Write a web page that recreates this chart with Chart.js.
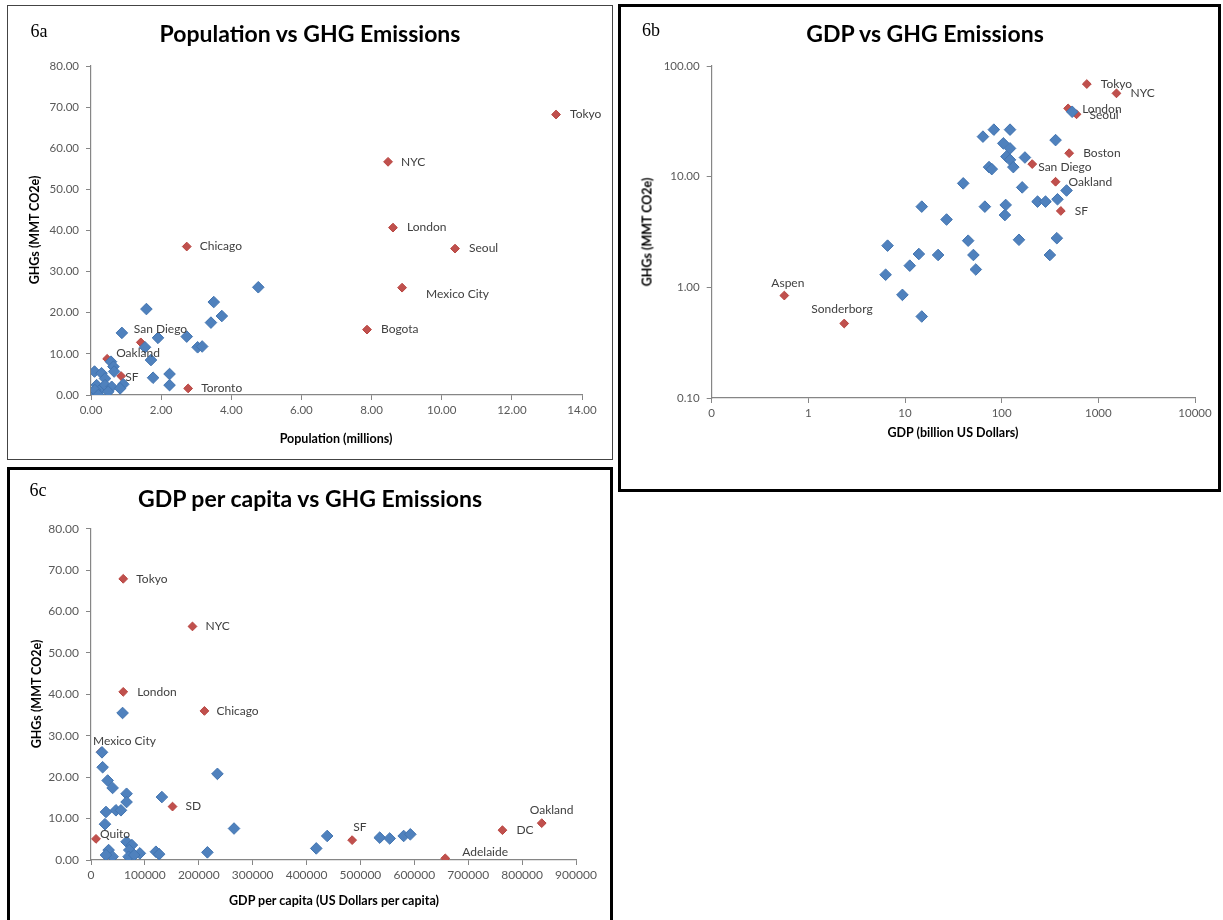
<!DOCTYPE html>
<html>
<head>
<meta charset="utf-8">
<script src="https://cdn.jsdelivr.net/npm/chart.js@4.4.1/dist/chart.umd.min.js"></script>
<style>
  html, body { margin:0; padding:0; background:#fff; width:1223px; height:920px; overflow:hidden; }
  .panel { position:absolute; box-sizing:border-box; background:#fff; }
  .panel canvas { position:absolute; left:0; top:0; }
  .txt { position:absolute; white-space:nowrap; transform:translate(-50%,-50%); color:#000; }
  .tag { font-family:"Liberation Serif","DejaVu Serif",serif; font-size:18px; }
  .title { font-family:Lato,"Open Sans",sans-serif; font-weight:700; font-size:23px; }
  .axt { font-family:Lato,"Open Sans",sans-serif; font-weight:700; font-size:12.5px; }
  .rot { transform:translate(-50%,-50%) rotate(-90deg); }
</style>
</head>
<body>

<div class="panel" id="pA" style="left:7px;top:5px;width:606px;height:455px;border:1px solid #444;"><canvas id="cA" width="604" height="453"></canvas></div>
<div class="panel" id="pB" style="left:618px;top:4px;width:603px;height:488px;border:3px solid #000;"><canvas id="cB" width="597" height="453"></canvas></div>
<div class="panel" id="pC" style="left:7px;top:467px;width:606px;height:470px;border:3px solid #000;"><canvas id="cC" width="600" height="464"></canvas></div>

<div class="txt tag" style="left:39px;top:31px;">6a</div>
<div class="txt title" style="left:310px;top:33px;">Population vs GHG Emissions</div>
<div class="txt axt" style="left:336px;top:438px;">Population (millions)</div>
<div class="txt axt rot" style="left:34px;top:230px;">GHGs (MMT CO2e)</div>

<div class="txt tag" style="left:651px;top:30px;">6b</div>
<div class="txt title" style="left:925px;top:33px;">GDP vs GHG Emissions</div>
<div class="txt axt" style="left:953px;top:432px;">GDP (billion US Dollars)</div>
<div class="txt axt rot" style="left:647px;top:232px;">GHGs (MMT CO2e)</div>

<div class="txt tag" style="left:38px;top:490px;">6c</div>
<div class="txt title" style="left:310px;top:498px;">GDP per capita vs GHG Emissions</div>
<div class="txt axt" style="left:334px;top:900px;">GDP per capita (US Dollars per capita)</div>
<div class="txt axt rot" style="left:36px;top:694px;">GHGs (MMT CO2e)</div>

<script>
// ---- 6a: population (millions) vs GHG (MMT CO2e)
const popBlueX = [4.77, 3.50, 3.73, 3.42, 1.58, 0.88, 1.91, 2.73, 1.54, 3.04, 3.17, 1.71, 1.77, 2.24, 2.24, 0.92,
                  0.10, 0.30, 0.57, 0.64, 0.66, 0.40, 0.16, 0.30, 0.04, 0.11, 0.40, 0.59, 0.83, 0.49, 0.21];
const popBlueY = [26.2, 22.6, 19.2, 17.6, 20.9, 15.1, 13.9, 14.2, 11.6, 11.6, 11.8, 8.5, 4.2, 5.1, 2.4, 2.6,
                  5.7, 5.3, 8.1, 6.9, 5.7, 4.0, 2.4, 1.6, 0.4, 1.2, 2.4, 2.0, 1.6, 0.8, 0.0];
const popLabels = ['Tokyo', 'NYC', 'London', 'Seoul', 'Mexico City', 'Bogota', 'Chicago', 'Toronto', 'San Diego', 'Oakland', 'SF'];
const popRedX = [13.26, 8.47, 8.61, 10.38, 8.87, 7.87, 2.73, 2.77, 1.42, 0.46, 0.86];
const popRedY = [68.2, 56.7, 40.7, 35.6, 26.1, 15.9, 36.1, 1.6, 12.8, 8.8, 4.6];
const popXTicks = [0, 2, 4, 6, 8, 10, 12, 14];
const popXTickLabels = ['0.00', '2.00', '4.00', '6.00', '8.00', '10.00', '12.00', '14.00'];
const ghgTicks = [0, 10, 20, 30, 40, 50, 60, 70, 80];
const ghgTickLabels = ['0.00', '10.00', '20.00', '30.00', '40.00', '50.00', '60.00', '70.00', '80.00'];

// ---- 6b: GDP (billion US$) vs GHG, log-log
const gdpBlueX = [64, 83, 122, 361, 104, 122, 112, 174, 122, 74, 79, 132, 40, 163, 469, 235, 284, 378, 14.9, 67,
                  110, 108, 26.9, 45, 151, 372, 13.9, 22, 51, 315, 54, 14.9, 6.6, 6.3, 11.2, 9.4, 536];
const gdpBlueY = [23.0, 26.6, 26.6, 21.4, 20.0, 18.0, 15.2, 14.9, 14.2, 12.2, 11.7, 12.2, 8.7, 8.0, 7.5, 5.95, 5.95, 6.25, 5.36, 5.36,
                  5.55, 4.5, 4.1, 2.64, 2.69, 2.78, 2.0, 1.96, 1.96, 1.96, 1.45, 0.545, 2.38, 1.30, 1.57, 0.855, 38.6];
const gdpLabels = ['Tokyo', 'NYC', 'London', 'Seoul', 'Boston', 'San Diego', 'Oakland', 'SF', 'Aspen', 'Sonderborg'];
const gdpRedX = [760, 1540, 487, 595, 499, 207, 361, 409, 0.564, 2.35];
const gdpRedY = [68.7, 56.6, 41.4, 36.6, 16.3, 13.0, 9.0, 4.9, 0.843, 0.471];
const gdpXTicks = [0.1, 1, 10, 100, 1000, 10000];
const gdpXTickLabels = ['0', '1', '10', '100', '1000', '10000'];
const gdpYTicks = [0.1, 1, 10, 100];
const gdpYTickLabels = ['0.10', '1.00', '10.00', '100.00'];

// ---- 6c: GDP per capita (US$) vs GHG
const gpcBlueX = [58600, 20400, 21600, 30900, 40100, 66000, 66000, 131500, 234600, 265400, 27800, 46300, 55600, 25900, 32700, 40100,
                  27800, 66000, 75900, 71000, 69800, 90700, 80200, 120400, 126500, 216000, 418000, 438300, 535800, 554300, 580200, 592600];
const gpcBlueY = [35.5, 26.0, 22.4, 19.2, 17.4, 16.0, 14.0, 15.2, 20.8, 7.6, 11.6, 12.0, 12.0, 8.65, 2.4, 0.8,
                  1.2, 4.4, 3.6, 2.4, 0.8, 1.6, 1.2, 2.0, 1.4, 1.85, 2.8, 5.8, 5.4, 5.2, 5.8, 6.2];
const gpcLabels = ['Tokyo', 'NYC', 'London', 'Chicago', 'Mexico City', 'SD', 'Quito', 'SF', 'Adelaide', 'DC', 'Oakland'];
const gpcRedX = [59800, 188300, 59800, 210500, 18500, 151300, 9300, 484600, 657400, 763500, 836400];
const gpcRedY = [67.9, 56.4, 40.6, 36.0, 26.1, 12.9, 5.1, 4.8, 0.4, 7.2, 8.9];
const gpcXTicks = [0, 100000, 200000, 300000, 400000, 500000, 600000, 700000, 800000, 900000];
const gpcXTickLabels = ['0', '100000', '200000', '300000', '400000', '500000', '600000', '700000', '800000', '900000'];

// label placement (text start relative to the point)
const popLabelOffsets = [[14,0],[13,0],[14,0],[14,0],[24,6],[14,0],[13,0],[13,0],[-7,-13],[9,-6],[4,1]];
const gdpLabelOffsets = [[14,0],[14,0],[14,1],[13,1],[14,0],[6,3],[13,0],[14,0],[-13,-12],[-33,-14]];
const gpcLabelOffsets = [[13,0],[13,0],[14,0],[12,0],[-8,-11],[13,0],[4,-5],[1,-13],[17,-6],[14,0],[-12,-13]];

const BLUE = '#4F81BD', BLUE_EDGE = '#4274B0', RED = '#C0504D', RED_EDGE = '#B8443F';
const AXIS = '#868686', TICK_TXT = '#595959', LABEL_TXT = '#404040';
const FONT = 'Lato';

const pts = (xs, ys) => xs.map((x, i) => ({ x, y: ys[i] }));

const pointLabels = {
  id: 'pointLabels',
  afterDatasetsDraw(chart) {
    const { ctx } = chart;
    chart.data.datasets.forEach((ds, i) => {
      if (!ds.cityLabels) return;
      const meta = chart.getDatasetMeta(i);
      ctx.save();
      ctx.font = `12px ${FONT}`;
      ctx.fillStyle = LABEL_TXT;
      ctx.textBaseline = 'middle';
      ctx.textAlign = 'left';
      meta.data.forEach((el, j) => {
        const [dx, dy] = ds.labelOffsets[j] || [13, 0];
        ctx.fillText(ds.cityLabels[j], el.x + dx, el.y + dy);
      });
      ctx.restore();
    });
  }
};

function axis(type, min, max, ticks, labels, fit, isX, fontSize) {
  return {
    type, min, max,
    afterBuildTicks: s => { s.ticks = ticks.map(v => ({ value: v })); },
    afterFit: s => { if (isX) s.height = fit; else s.width = fit; },
    ticks: {
      autoSkip: false, maxRotation: 0,
      color: TICK_TXT, font: { family: FONT, size: fontSize },
      padding: isX ? 3 : 7,
      callback: (v, i) => labels[i]
    },
    grid: { drawOnChartArea: false, drawTicks: true, tickLength: 5, color: AXIS, lineWidth: 1 },
    border: { display: true, color: AXIS, width: 1.2 },
    title: { display: false }
  };
}

function makeChart(id, blue, red, labels, offsets, xScale, yScale, pad) {
  return new Chart(document.getElementById(id), {
    type: 'scatter',
    data: {
      datasets: [
        { data: blue, pointStyle: 'rectRot', pointRadius: 5.8, pointHoverRadius: 5.8,
          backgroundColor: BLUE, borderColor: BLUE_EDGE, borderWidth: 1 },
        { data: red, pointStyle: 'rectRot', pointRadius: 4.4, pointHoverRadius: 4.4,
          backgroundColor: RED, borderColor: RED_EDGE, borderWidth: 1,
          cityLabels: labels, labelOffsets: offsets }
      ]
    },
    options: {
      responsive: false, animation: false,
      layout: { padding: pad },
      plugins: { legend: { display: false }, tooltip: { enabled: false }, title: { display: false } },
      scales: { x: xScale, y: yScale }
    },
    plugins: [pointLabels]
  });
}

makeChart('cA', pts(popBlueX, popBlueY), pts(popRedX, popRedY), popLabels, popLabelOffsets,
  axis('linear', 0, 14, popXTicks, popXTickLabels, 64, true, 11.5),
  axis('linear', 0, 80, ghgTicks, ghgTickLabels, 83, false, 11.5),
  { top: 60, right: 30, left: 0, bottom: 0 });

makeChart('cB', pts(gdpBlueX, gdpBlueY), pts(gdpRedX, gdpRedY), gdpLabels, gdpLabelOffsets,
  axis('logarithmic', 0.1, 10000, gdpXTicks, gdpXTickLabels, 62, true, 11.5),
  axis('logarithmic', 0.1, 100, gdpYTicks, gdpYTickLabels, 90.7, false, 11.5),
  { top: 59, right: 23, left: 0, bottom: 0 });

makeChart('cC', pts(gpcBlueX, gpcBlueY), pts(gpcRedX, gpcRedY), gpcLabels, gpcLabelOffsets,
  axis('linear', 0, 900000, gpcXTicks, gpcXTickLabels, 74, true, 12),
  axis('linear', 0, 80, ghgTicks, ghgTickLabels, 81, false, 12),
  { top: 58.7, right: 34, left: 0, bottom: 0 });
</script>
</body>
</html>
